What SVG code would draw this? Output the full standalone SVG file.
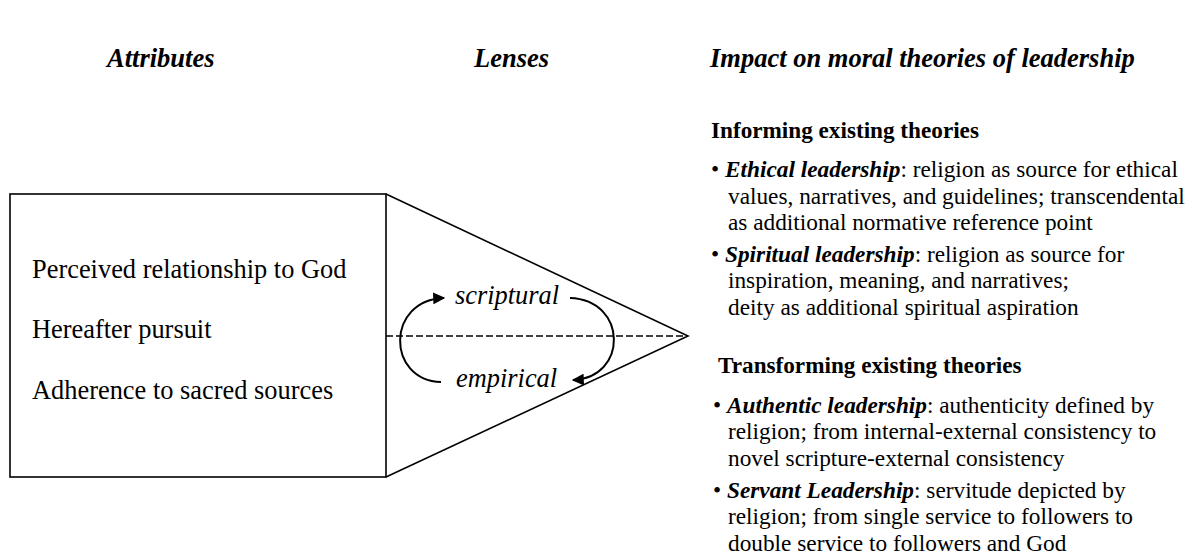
<svg xmlns="http://www.w3.org/2000/svg" width="1192" height="560" viewBox="0 0 1192 560">
<style>
.hdr{font-family:"Liberation Serif",serif;font-size:26.5px;font-weight:bold;font-style:italic;fill:#000}
.attr{font-family:"Liberation Serif",serif;font-size:26.4px;fill:#000}
.lens{font-family:"Liberation Serif",serif;font-size:26.4px;font-style:italic;fill:#000}
.sub{font-family:"Liberation Serif",serif;font-size:23.2px;font-weight:bold;fill:#000}
.body{font-family:"Liberation Serif",serif;font-size:23.3px;fill:#000}
.bi{font-weight:bold;font-style:italic}
.shape{fill:none;stroke:#000;stroke-width:1.6}
.arc{fill:none;stroke:#000;stroke-width:2}
</style>
<defs>
<marker id="ah" viewBox="0 0 10 10" refX="9" refY="5" markerWidth="6" markerHeight="6" markerUnits="strokeWidth" orient="auto">
<path d="M0,0 L10,5 L0,10 z" fill="#000"/>
</marker>
</defs>
<rect width="1192" height="560" fill="#fff"/>
<g id="headers">
<text class="hdr" x="107" y="67">Attributes</text>
<text class="hdr" x="474" y="67">Lenses</text>
<text class="hdr" x="710" y="67">Impact on moral theories of leadership</text>
</g>
<g id="attributes">
<rect class="shape" x="10" y="194" width="376" height="283"/>
<text class="attr" x="32" y="278">Perceived relationship to God</text>
<text class="attr" x="32" y="338">Hereafter pursuit</text>
<text class="attr" x="32" y="399">Adherence to sacred sources</text>
</g>
<g id="lenses">
<path class="shape" d="M386,194 L688,336 L386,477"/>
<line x1="386" y1="336" x2="688" y2="336" stroke="#000" stroke-width="1.6" stroke-dasharray="7,3"/>
<text class="lens" x="455" y="304">scriptural</text>
<text class="lens" x="456" y="387">empirical</text>
</g>
<g id="connectors">
<path class="arc" d="M441,382 C386,380 386,300 444,298" marker-end="url(#ah)"/>
<path class="arc" d="M570,298 C628,300 628,378 573,380" marker-end="url(#ah)"/>
</g>
<g id="impact">
<text class="sub" x="711" y="138">Informing existing theories</text>
<text class="body" x="711" y="177">• <tspan class="bi">Ethical leadership</tspan>: religion as source for ethical</text>
<text class="body" x="728" y="204">values, narratives, and guidelines; transcendental</text>
<text class="body" x="728" y="230">as additional normative reference point</text>
<text class="body" x="711" y="262">• <tspan class="bi">Spiritual leadership</tspan>: religion as source for</text>
<text class="body" x="728" y="288">inspiration, meaning, and narratives;</text>
<text class="body" x="728" y="315">deity as additional spiritual aspiration</text>
<text class="sub" x="718" y="373">Transforming existing theories</text>
<text class="body" x="713" y="413">• <tspan class="bi">Authentic leadership</tspan>: authenticity defined by</text>
<text class="body" x="728" y="439">religion; from internal-external consistency to</text>
<text class="body" x="728" y="466">novel scripture-external consistency</text>
<text class="body" x="713" y="498">• <tspan class="bi">Servant Leadership</tspan>: servitude depicted by</text>
<text class="body" x="728" y="524">religion; from single service to followers to</text>
<text class="body" x="728" y="551">double service to followers and God</text>
</g>
</svg>
